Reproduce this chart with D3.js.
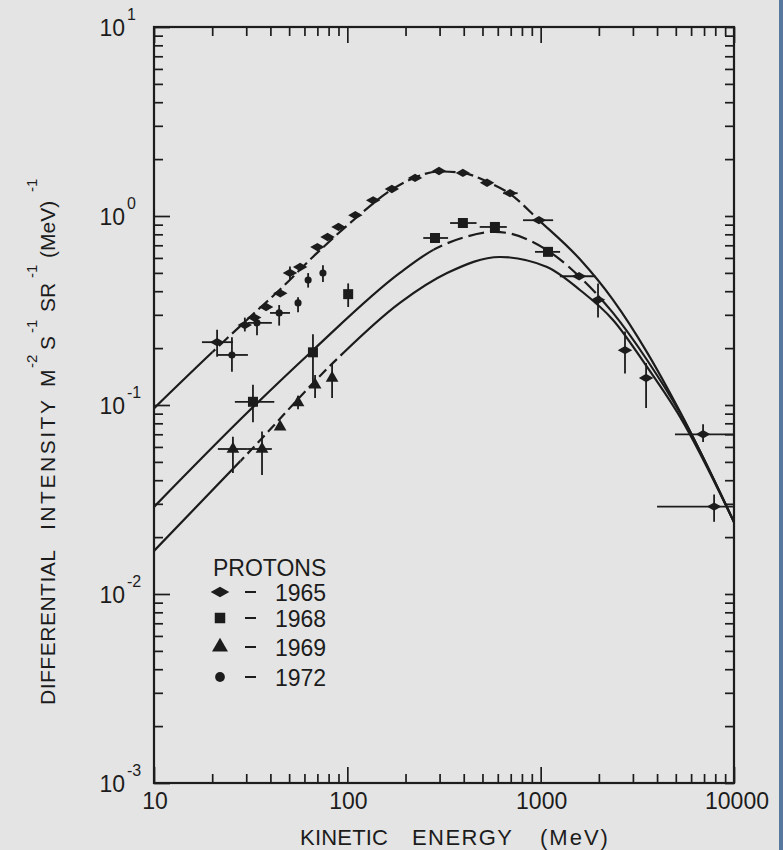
<!DOCTYPE html>
<html><head><meta charset="utf-8">
<script src="https://cdn.jsdelivr.net/npm/d3@7"></script>
<style>body{margin:0;background:#e4e4e4}svg{display:block}</style>
</head><body><svg id="c" width="783" height="850"></svg>
<script>
// ---- fitted curves (energy MeV, intensity) ----
const curveTopE = [10, 20, 30, 45, 70, 110, 170, 224, 298, 396, 528, 694, 980, 1597, 2367, 3550, 5260, 10000];
const curveTopI = [0.096, 0.19, 0.28, 0.41, 0.64, 0.97, 1.38, 1.6, 1.72, 1.69, 1.52, 1.31, 0.95, 0.59, 0.36, 0.19, 0.092, 0.024];
const curveMidE = [10, 30.6, 66.4, 187, 277, 400, 580, 1079, 1597, 2367, 3550, 5260, 10000];
const curveMidI = [0.0289, 0.0918, 0.195, 0.5, 0.66, 0.77, 0.825, 0.66, 0.475, 0.307, 0.173, 0.0907, 0.024];
const curveLowE = [10, 32.1, 84.3, 187, 328, 616, 1079, 1597, 2367, 3550, 5260, 10000];
const curveLowI = [0.0169, 0.0585, 0.167, 0.347, 0.499, 0.607, 0.537, 0.406, 0.282, 0.159, 0.0865, 0.024];

// ---- 1965 (diamonds) ----
const e65 = [21.2, 29.5, 33, 38, 45, 50.5, 57, 70, 79, 90, 110, 136, 170, 224, 298, 396, 528, 694, 980, 1580, 1980, 2730, 3510, 6920, 7890];
const i65 = [0.215, 0.265, 0.29, 0.33, 0.39, 0.50, 0.537, 0.685, 0.774, 0.875, 1.01, 1.21, 1.39, 1.59, 1.73, 1.69, 1.50, 1.32, 0.95, 0.48, 0.36, 0.195, 0.139, 0.070, 0.029];
const xlo65 = [17.7, null, null, null, null, null, null, null, null, null, null, null, null, null, null, null, null, 640, 810, 1257, null, null, null, 4950, 4000];
const xhi65 = [25.6, null, null, null, null, null, null, null, null, null, null, null, null, null, null, null, null, 760, 1160, 1917, null, null, null, 10000, 9880];
const ylo65 = [0.18, 0.245, null, null, null, 0.46, null, null, null, null, null, null, null, null, null, null, null, null, null, null, 0.29, 0.147, 0.0963, 0.0637, 0.0241];
const yhi65 = [0.25, 0.29, null, null, null, 0.54, null, null, null, null, null, null, null, null, null, null, null, null, null, null, 0.44, 0.245, 0.167, 0.0792, 0.0336];

// ---- 1968 (squares) ----
const e68 = [32.5, 66.4, 101, 284, 396, 580, 1091];
const i68 = [0.104, 0.190, 0.386, 0.765, 0.918, 0.875, 0.646];
const xlo68 = [26.2, null, null, 247, 340, 484, 935];
const xhi68 = [41.9, null, null, 332, 466, 668, 1260];
const ylo68 = [0.081, 0.131, 0.33, null, null, null, null];
const yhi68 = [0.128, 0.237, 0.44, null, null, null, null];

// ---- 1969 (triangles) ----
const e69 = [25.6, 36.2, 44.9, 55.6, 68.1, 83.4];
const i69 = [0.0585, 0.0585, 0.0766, 0.103, 0.128, 0.139];
const xlo69 = [21.4, 30.6, null, null, null, null];
const xhi69 = [30.6, 40.7, null, null, null, null];
const ylo69 = [0.0437, 0.0426, null, 0.095, 0.109, 0.109];
const yhi69 = [0.068, 0.0723, null, 0.112, 0.144, 0.167];

// ---- 1972 (dots) ----
const e72 = [25.3, 34.1, 44.4, 55.6, 62.7, 74.8];
const i72 = [0.184, 0.272, 0.307, 0.347, 0.458, 0.499];
const xlo72 = [21.4, 30.6, 39.8, null, null, null];
const xhi72 = [30.6, 40.7, 50.5, null, null, null];
const ylo72 = [0.150, 0.234, 0.263, 0.31, 0.418, 0.447];
const yhi72 = [0.228, 0.292, 0.338, 0.372, 0.499, 0.548];

// ---- ticks / labels ----
const xMajor = [10, 100, 1000, 10000];
const xMajorLabels = ["10", "100", "1000", "10000"];
const yMajor = [1e-3, 1e-2, 1e-1, 1, 10];
const yMajorExp = ["-3", "-2", "-1", "0", "1"];
const legendYears = ["1965", "1968", "1969", "1972"];
const xTitleWords = ["KINETIC", "ENERGY", "(MeV)"];
const yTitleParts = ["DIFFERENTIAL", "INTENSITY", "M", "-2", "S", "-1", "SR", "-1", "(MeV)", "-1"];

const INK = "#1c1c1c";
const svg = d3.select("#c");
svg.append("rect").attr("width", 783).attr("height", 850).attr("fill", "#e4e4e4");
svg.append("rect").attr("x", 779).attr("width", 4).attr("height", 850).attr("fill", "#56789f");

const x = d3.scaleLog().domain([10, 10000]).range([154, 734]);
const y = d3.scaleLog().domain([1e-3, 10]).range([783, 27]);

const xMinor = [], yMinor = [];
[10, 100, 1000].forEach(d => { for (let k = 2; k <= 9; k++) xMinor.push(d * k); });
[1e-3, 1e-2, 1e-1, 1].forEach(d => { for (let k = 2; k <= 9; k++) yMinor.push(d * k); });

function styleAxis(g) {
  g.select(".domain").remove();
  g.selectAll(".tick line").attr("stroke", INK).attr("stroke-width", 1.7);
  g.selectAll(".tick text").remove();
}
const axes = svg.append("g");
[[xMinor, -9], [xMajor, -16]].forEach(([vals, s]) => {
  axes.append("g").attr("transform", "translate(0,783)").call(d3.axisBottom(x).tickValues(vals).tickSizeInner(s).tickSizeOuter(0)).call(styleAxis);
  axes.append("g").attr("transform", "translate(0,27)").call(d3.axisTop(x).tickValues(vals).tickSizeInner(s).tickSizeOuter(0)).call(styleAxis);
});
[[yMinor, -9], [yMajor, -16]].forEach(([vals, s]) => {
  axes.append("g").attr("transform", "translate(154,0)").call(d3.axisLeft(y).tickValues(vals).tickSizeInner(s).tickSizeOuter(0)).call(styleAxis);
  axes.append("g").attr("transform", "translate(734,0)").call(d3.axisRight(y).tickValues(vals).tickSizeInner(-9).tickSizeOuter(0)).call(styleAxis);
});
svg.append("rect").attr("x", 154).attr("y", 27).attr("width", 580).attr("height", 756)
  .attr("fill", "none").attr("stroke", INK).attr("stroke-width", 2.2);

const FONT = "'Liberation Sans', Arial, sans-serif";
// x tick labels
svg.append("g").selectAll("text").data(xMajor).join("text")
  .attr("x", d => x(d) + (d === 10000 ? 3 : 1)).attr("y", 809)
  .attr("text-anchor", "middle").attr("font-family", FONT).attr("font-size", 23).attr("fill", INK)
  .text((d, i) => xMajorLabels[i]);
// y tick labels
const yl = svg.append("g").selectAll("g").data(yMajor).join("g");
yl.append("text").attr("x", 125).attr("y", d => y(d) + 9).attr("text-anchor", "end")
  .attr("font-family", FONT).attr("font-size", 23).attr("fill", INK).text("10");
yl.append("text").attr("x", 127).attr("y", d => y(d) - 7)
  .attr("font-family", FONT).attr("font-size", 16).attr("fill", INK).text((d, i) => yMajorExp[i]);

// x title
const xTitleX = [300, 412, 540];
const xTitleLen = [88, 100, null];
svg.append("g").selectAll("text").data(xTitleWords).join("text")
  .attr("x", (d, i) => xTitleX[i]).attr("y", 845)
  .each(function (d, i) { if (xTitleLen[i]) d3.select(this).attr("textLength", xTitleLen[i]).attr("lengthAdjust", "spacing"); })
  .attr("letter-spacing", (d, i) => xTitleLen[i] ? null : 2)
  .attr("font-family", FONT).attr("font-size", 22).attr("fill", INK).text(d => d);

// y title (rotated): start position along the axis, optional fitted length, superscript flag
const yTitleStart = [705, 530, 387, 368, 350, 333, 312, 278, 258, 192];
const yTitleLen = [155, 130, null, null, null, null, null, null, null, null];
const yTitleSup = [false, false, false, true, false, true, false, true, false, true];
yTitleParts.forEach((t, i) => {
  const el = svg.append("text").attr("transform", `translate(${yTitleSup[i] ? 37 : 55},${yTitleStart[i]}) rotate(-90)`)
    .attr("font-family", FONT).attr("font-size", yTitleSup[i] ? 15 : 21).attr("fill", INK).text(t);
  if (yTitleLen[i]) el.attr("textLength", yTitleLen[i]).attr("lengthAdjust", "spacing");
});

// ---- curves ----
const plot = svg.append("g");
const defs = svg.append("defs");
const line = d3.line().x(d => x(d[0])).y(d => y(d[1])).curve(d3.curveMonotoneX);
let clipId = 0;
function drawCurve(E, I, segs) {
  const pts = E.map((e, i) => [e, I[i]]);
  segs.forEach(([lo, hi, dash]) => {
    const id = "clip" + (clipId++);
    defs.append("clipPath").attr("id", id).append("rect")
      .attr("x", x(lo)).attr("y", 0).attr("width", x(hi) - x(lo)).attr("height", 850);
    plot.append("path").attr("d", line(pts)).attr("fill", "none").attr("stroke", INK)
      .attr("stroke-width", 2.2).attr("stroke-dasharray", dash).attr("clip-path", `url(#${id})`);
  });
}
drawCurve(curveTopE, curveTopI, [[10, 20, null], [20, 1000, "13,5"], [1000, 10000, null]]);
drawCurve(curveMidE, curveMidI, [[10, 280, null], [280, 2000, "16,6"], [2000, 10000, null]]);
drawCurve(curveLowE, curveLowI, [[10, 28, null], [28, 95, "10,5"], [95, 10000, null]]);

// ---- error bars & markers ----
function drawSeries(E, I, xlo, xhi, ylo, yhi, sym) {
  const g = plot.append("g");
  E.forEach((e, i) => {
    if (xlo[i] != null) g.append("line").attr("x1", x(xlo[i])).attr("x2", x(xhi[i]))
      .attr("y1", y(I[i])).attr("y2", y(I[i])).attr("stroke", INK).attr("stroke-width", 1.8);
    if (ylo[i] != null) g.append("line").attr("x1", x(e)).attr("x2", x(e))
      .attr("y1", y(ylo[i])).attr("y2", y(yhi[i])).attr("stroke", INK).attr("stroke-width", 1.8);
  });
  g.selectAll(".m").data(E).join("path").attr("class", "m")
    .attr("d", sym.path).attr("fill", INK)
    .attr("transform", (e, i) => `translate(${x(e)},${y(I[i])})${sym.rot ? " rotate(90)" : ""}`);
}
const symDiamond = { path: d3.symbol(d3.symbolDiamond, 60)(), rot: true };
const symSquare = { path: d3.symbol(d3.symbolSquare, 100)(), rot: false };
const symTri = { path: d3.symbol(d3.symbolTriangle, 70)(), rot: false };
const symDot = { path: d3.symbol(d3.symbolCircle, 40)(), rot: false };
drawSeries(e65, i65, xlo65, xhi65, ylo65, yhi65, symDiamond);
drawSeries(e68, i68, xlo68, xhi68, ylo68, yhi68, symSquare);
drawSeries(e69, i69, xlo69, xhi69, ylo69, yhi69, symTri);
drawSeries(e72, i72, xlo72, xhi72, ylo72, yhi72, symDot);

// ---- legend ----
const lg = svg.append("g");
lg.append("text").attr("x", 213).attr("y", 576).attr("font-family", FONT).attr("font-size", 23).attr("fill", INK).text("PROTONS");
const legendSyms = [
  { path: d3.symbol(d3.symbolDiamond, 100)(), rot: true },
  { path: d3.symbol(d3.symbolSquare, 110)(), rot: false },
  { path: d3.symbol(d3.symbolTriangle, 110)(), rot: false },
  { path: d3.symbol(d3.symbolCircle, 75)(), rot: false }
];
const legendRowY = [592, 618, 647, 677];
legendYears.forEach((yr, i) => {
  lg.append("path").attr("d", legendSyms[i].path).attr("fill", INK)
    .attr("transform", `translate(220,${legendRowY[i]})${legendSyms[i].rot ? " rotate(90)" : ""}`);
  lg.append("line").attr("x1", 245).attr("x2", 256).attr("y1", legendRowY[i]).attr("y2", legendRowY[i])
    .attr("stroke", INK).attr("stroke-width", 2);
  lg.append("text").attr("x", 275).attr("y", legendRowY[i] + 9).attr("font-family", FONT)
    .attr("font-size", 23).attr("fill", INK).text(yr);
});
</script></body></html>
